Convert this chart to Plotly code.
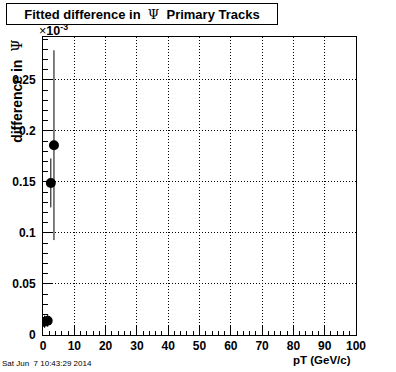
import plotly.graph_objects as go

# Data (y in units of 1e-3)
pt = [0.5, 1.5, 2.5, 3.5]
diff = [0.013, 0.014, 0.149, 0.186]
diff_err = [0.006, 0.006, 0.024, 0.093]

x_ticks = [0, 10, 20, 30, 40, 50, 60, 70, 80, 90, 100]
y_ticks = [0, 0.05, 0.1, 0.15, 0.2, 0.25]
y_tick_labels = ["0", "0.05", "0.1", "0.15", "0.2", "0.25"]

W, H = 396, 372
L, R, T, B = 40, 40, 37, 37
pw, ph = W - L - R, H - T - B

def px_x(p):
    return (p - L) / pw

def px_y(p):
    return (H - B - p) / ph

font_fam = "Liberation Sans, Arial, Helvetica, sans-serif"

fig = go.Figure()
fig.add_trace(go.Scatter(
    x=pt, y=diff, mode="markers",
    marker=dict(color="black", size=10, symbol="circle"),
    error_y=dict(type="data", array=diff_err, color="black", thickness=1, width=0),
    showlegend=False,
))

axis_common = dict(
    showline=True, linecolor="black", linewidth=1, mirror=True,
    showgrid=True, gridcolor="black", gridwidth=1, griddash="1px,2px",
    zeroline=False, ticks="inside", ticklen=9, tickcolor="black", tickwidth=1,
    tickfont=dict(family=font_fam, size=12, color="black", weight="bold"),
)

fig.update_xaxes(
    range=[0, 100], tickvals=x_ticks, ticktext=[str(v) for v in x_ticks],
    minor=dict(ticks="inside", ticklen=4, dtick=2, tickcolor="black", showgrid=False),
    ticklabelstandoff=0,
    **axis_common,
)
fig.update_yaxes(
    range=[0, 0.292], tickvals=y_ticks, ticktext=y_tick_labels,
    minor=dict(ticks="inside", ticklen=5, dtick=0.01, tickcolor="black", showgrid=False),
    ticklabelstandoff=4,
    **axis_common,
)

annotations = [
    dict(text="<b>Fitted difference in</b>  <span style='font-family:DejaVu Serif'>Ψ</span>  <b>Primary Tracks</b>",
         xref="paper", yref="paper", x=px_x(3), y=px_y(3), xanchor="left", yanchor="top",
         showarrow=False, bordercolor="black", borderwidth=1, bgcolor="white",
         width=268, height=18, borderpad=1, align="center",
         font=dict(family=font_fam, size=13, color="black")),
    dict(text="<b>difference in</b>  <span style='font-family:DejaVu Serif'>Ψ</span>",
         xref="paper", yref="paper", x=px_x(3), y=px_y(38), xanchor="left", yanchor="top",
         textangle=-90, showarrow=False,
         font=dict(family=font_fam, size=14, color="black")),
    dict(text="<b>pT (GeV/c)</b>", xref="paper", yref="paper", x=px_x(353), y=px_y(352),
         xanchor="right", yanchor="top", showarrow=False,
         font=dict(family=font_fam, size=11.5, color="black")),
    dict(text="×<b>10<sup>-3</sup></b>", xref="paper", yref="paper", x=px_x(34), y=px_y(40),
         xanchor="left", yanchor="bottom", showarrow=False,
         font=dict(family=font_fam, size=12.5, color="black")),
    dict(text="Sat Jun  7 10:43:29 2014", xref="paper", yref="paper", x=px_x(-3), y=px_y(370),
         xanchor="left", yanchor="bottom", showarrow=False,
         font=dict(family=font_fam, size=8, color="black")),
]

fig.update_layout(
    width=W, height=H,
    margin=dict(l=L, r=R, t=T, b=B, pad=0),
    paper_bgcolor="white", plot_bgcolor="white",
    annotations=annotations,
    showlegend=False,
)

fig.write_html("out.html", config={"displayModeBar": False},
               post_script="document.body.style.margin='0';document.body.style.padding='0';")
